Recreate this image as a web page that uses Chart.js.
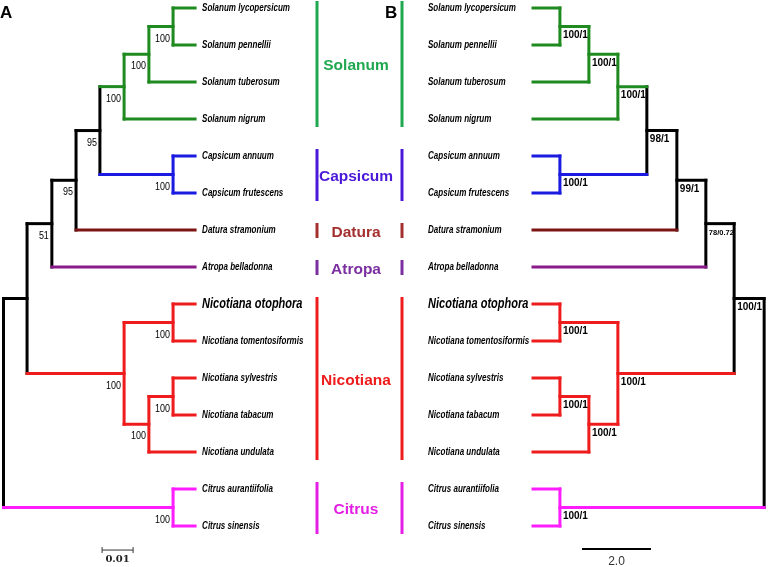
<!DOCTYPE html>
<html>
<head>
<meta charset="utf-8">
<script src="https://cdn.jsdelivr.net/npm/chart.js@4.4.1/dist/chart.umd.min.js"></script>
<style>
  html, body { margin: 0; padding: 0; background: #fff; }
  #wrap { width: 768px; height: 567px; position: relative; }
</style>
</head>
<body>
<div id="wrap"><canvas id="tree"></canvas></div>
<script>
// leaves, top to bottom
const taxa = [
  'Solanum lycopersicum', 'Solanum pennellii', 'Solanum tuberosum', 'Solanum nigrum',
  'Capsicum annuum', 'Capsicum frutescens', 'Datura stramonium', 'Atropa belladonna',
  'Nicotiana otophora', 'Nicotiana tomentosiformis', 'Nicotiana sylvestris',
  'Nicotiana tabacum', 'Nicotiana undulata', 'Citrus aurantiifolia', 'Citrus sinensis'
];
const taxonClade = [0, 0, 0, 0, 1, 1, 2, 3, 4, 4, 4, 4, 4, 5, 5];
const clades = ['Solanum', 'Capsicum', 'Datura', 'Atropa', 'Nicotiana', 'Citrus'];

// topology (leaf indices), internal nodes numbered in post-order
const tree = [[[[[[[[0, 1], 2], 3], [4, 5]], 6], 7], [[8, 9], [[10, 11], 12]]], [13, 14]];

// A: distance from root, B: node height (scale-bar units)
const depthA = [0.0547, 0.0469, 0.0389, 0.0547, 0.0311, 0.0234, 0.0156, 0.0547, 0.0547, 0.0469, 0.0389, 0.0076, 0.0547, 0];
const leafDepthA = 0.0618;
const heightB = [0.78, 1.62, 2.46, 0.78, 3.30, 4.17, 5.01, 0.78, 0.78, 1.62, 2.46, 5.83, 0.78, 6.70];
const supportA = ['100', '100', '100', '100', '95', '95', '51', '100', '100', '100', '100', '', '100', ''];
const supportB = ['100/1', '100/1', '100/1', '100/1', '98/1', '99/1', '78/0.72', '100/1', '100/1', '100/1', '100/1', '100/1', '100/1', ''];

const scaleBarA = 0.01;
const scaleBarB = 2.0;

// colours
const branchColors = ['#1f8a1f', '#1a1ae0', '#7d1414', '#8a1a8a', '#ee1c1c', '#ff1cff'];
const cladeColors = ['#1fa84f', '#4a18d8', '#a3302f', '#7b2fa0', '#ee1c1c', '#e41ee4'];

let counter = 0;
function build(n) {
  if (typeof n === 'number') {
    return { leaf: n, y: n, clade: taxonClade[n], xa: leafDepthA, xb: 0 };
  }
  const kids = n.map(build);
  const i = counter++;
  const same = kids.every(k => k.clade === kids[0].clade);
  return {
    kids, i,
    y: (kids[0].y + kids[kids.length - 1].y) / 2,
    clade: same ? kids[0].clade : -1,
    xa: depthA[i], xb: heightB[i]
  };
}
const root = build(tree);

const internals = [];
(function walk(n) {
  if (!n.kids) return;
  n.kids.forEach(walk);
  internals.push(n);
})(root);

const colorOf = c => c < 0 ? '#000' : branchColors[c];

function segments(key, axis) {
  const sets = [];
  internals.forEach(n => {
    n.kids.forEach(k => {
      sets.push({ data: [{ x: n[key], y: k.y }, { x: k[key], y: k.y }], borderColor: colorOf(k.clade), xAxisID: axis });
    });
    const first = n.kids[0], last = n.kids[n.kids.length - 1];
    sets.push({ data: [{ x: n[key], y: first.y }, { x: n[key], y: last.y }], borderColor: colorOf(n.clade), xAxisID: axis });
  });
  return sets;
}

const datasets = segments('xa', 'xa').concat(segments('xb', 'xb')).map(d => Object.assign(d, {
  showLine: true,
  borderWidth: 3,
  borderCapStyle: 'square',
  pointRadius: 0,
  fill: false
}));

const sans = '"Liberation Sans", Arial, sans-serif';

// condensed text: squeeze horizontally like Arial Narrow
function squeezed(ctx, text, x, y, sx, align) {
  ctx.save();
  ctx.translate(x, y);
  ctx.scale(sx, 1);
  ctx.textAlign = align;
  ctx.fillText(text, 0, 0);
  ctx.restore();
}

const labelsPlugin = {
  id: 'treeLabels',
  afterDraw(chart) {
    const ctx = chart.ctx;
    const xa = chart.scales.xa, xb = chart.scales.xb, ys = chart.scales.y;
    ctx.save();
    ctx.textBaseline = 'middle';

    // leaf names
    taxa.forEach((name, i) => {
      const y = ys.getPixelForValue(i);
      const big = name === 'Nicotiana otophora';
      ctx.fillStyle = '#000';
      ctx.font = big ? 'italic bold 14.5px ' + sans : 'italic bold 11px ' + sans;
      const sx = big ? 0.76 : 0.73;
      squeezed(ctx, name, xa.getPixelForValue(leafDepthA) + 7, y, sx, 'left');
      squeezed(ctx, name, 428, y, sx, 'left');
    });

    // support values
    internals.forEach(n => {
      const y = ys.getPixelForValue(n.y);
      if (supportA[n.i]) {
        ctx.font = '11.5px ' + sans;
        squeezed(ctx, supportA[n.i], xa.getPixelForValue(n.xa) - 3, y + 12, 0.78, 'right');
      }
      if (supportB[n.i]) {
        const s = supportB[n.i];
        ctx.font = 'bold ' + (s.length > 5 ? 7.5 : 10) + 'px ' + sans;
        ctx.textAlign = 'left';
        ctx.fillText(s, xb.getPixelForValue(n.xb) + 3, y + 9);
      }
    });

    // clade bars and names
    clades.forEach((name, c) => {
      const idx = taxonClade.map((t, i) => t === c ? i : -1).filter(i => i >= 0);
      const top = ys.getPixelForValue(idx[0]) - 7;
      const bot = ys.getPixelForValue(idx[idx.length - 1]) + 8;
      ctx.strokeStyle = cladeColors[c];
      ctx.lineWidth = 3;
      [317, 402].forEach(x => {
        ctx.beginPath();
        ctx.moveTo(x, top);
        ctx.lineTo(x, bot);
        ctx.stroke();
      });
      ctx.fillStyle = cladeColors[c];
      ctx.font = 'bold 15.5px ' + sans;
      ctx.textAlign = 'center';
      ctx.fillText(name, 356, (top + bot) / 2 + 2);
    });

    // scale bars
    ctx.strokeStyle = '#333';
    ctx.lineWidth = 1;
    const ya = ys.getPixelForValue(14.65);
    const a0 = xa.getPixelForValue(0.0318), a1 = xa.getPixelForValue(0.0318 + scaleBarA);
    ctx.beginPath();
    ctx.moveTo(a0, ya); ctx.lineTo(a1, ya);
    ctx.moveTo(a0, ya - 3); ctx.lineTo(a0, ya + 3);
    ctx.moveTo(a1, ya - 3); ctx.lineTo(a1, ya + 3);
    ctx.stroke();
    ctx.fillStyle = '#222';
    ctx.font = 'bold 10px "DejaVu Serif", serif';
    ctx.textAlign = 'center';
    ctx.fillText(scaleBarA.toFixed(2), (a0 + a1) / 2, ya + 9);

    const yb = ys.getPixelForValue(14.62);
    const b0 = xb.getPixelForValue(1.42), b1 = xb.getPixelForValue(1.42 + scaleBarB);
    ctx.strokeStyle = '#000';
    ctx.lineWidth = 2;
    ctx.beginPath();
    ctx.moveTo(b0, yb); ctx.lineTo(b1, yb);
    ctx.stroke();
    ctx.font = '12px ' + sans;
    ctx.fillStyle = '#333';
    ctx.fillText(scaleBarB.toFixed(1), (b0 + b1) / 2, yb + 13);

    // panel letters
    ctx.fillStyle = '#000';
    ctx.font = 'bold 17px ' + sans;
    ctx.textAlign = 'left';
    ctx.fillText('A', 0, 13);
    ctx.fillText('B', 385, 13);
    ctx.restore();
  }
};

new Chart(document.getElementById('tree'), {
  type: 'scatter',
  data: { datasets },
  options: {
    responsive: true,
    maintainAspectRatio: false,
    animation: false,
    layout: { padding: 0 },
    plugins: { legend: { display: false }, tooltip: { enabled: false } },
    scales: {
      xa: { type: 'linear', position: 'bottom', display: false, min: -3.5 / 3100, max: 764.5 / 3100 },
      xb: { type: 'linear', position: 'bottom', display: false, min: -533 / 34.5, max: 235 / 34.5 },
      y: { type: 'linear', reverse: true, display: false, min: -8 / 37, max: 559 / 37 }
    }
  },
  plugins: [labelsPlugin]
});
</script>
</body>
</html>
